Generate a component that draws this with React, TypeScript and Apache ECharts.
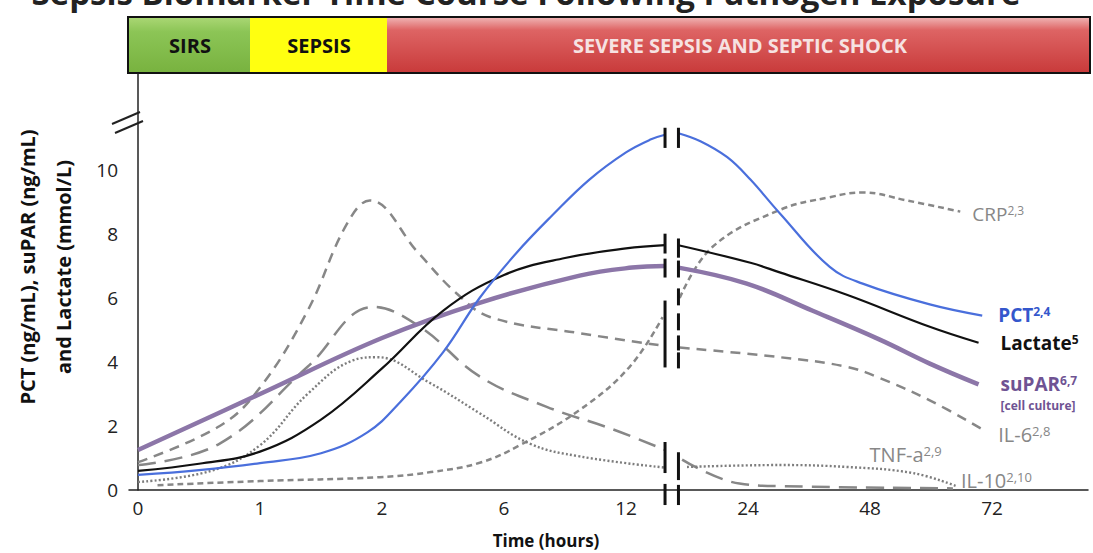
import React, { useEffect, useRef } from "react";
import * as echarts from "echarts";

// ---- data (x = position index on the broken time axis, y = concentration) ----
const xTickLabels = ["0", "1", "2", "6", "12", "24", "48", "72"];
const xTickPositions = [0, 1, 2, 3, 4, 5, 6, 7];
const yMaxLabel = 10;

const pctEarly = [[0, 0.47], [0.5, 0.62], [1, 0.84], [1.5, 1.15], [1.88, 1.8], [2.15, 2.75], [2.5, 4.3], [2.8, 6.0], [3.1, 7.4], [3.4, 8.6], [3.7, 9.7], [4.0, 10.55], [4.2, 10.95], [4.32, 11.1]];
const pctLate = [[4.43, 11.15], [4.61, 10.9], [4.83, 10.4], [5.02, 9.7], [5.26, 8.65], [5.67, 6.97], [5.94, 6.45], [6.49, 5.8], [6.92, 5.45]];

const lactateEarly = [[0, 0.6], [0.5, 0.82], [1, 1.2], [1.5, 2.2], [2, 3.8], [2.5, 5.6], [3, 6.72], [3.5, 7.25], [4, 7.55], [4.32, 7.65]];
const lactateLate = [[4.43, 7.65], [5.02, 7.1], [5.26, 6.8], [5.81, 6.1], [6.49, 5.1], [6.89, 4.6]];

const suparEarly = [[0, 1.25], [1, 3.0], [2, 4.75], [2.8, 5.85], [3.62, 6.7], [4.05, 6.95], [4.32, 7.0]];
const suparLate = [[4.43, 6.95], [4.99, 6.45], [5.53, 5.6], [6.08, 4.7], [6.49, 3.95], [6.89, 3.3]];

const crpEarly = [[0.16, 0.15], [1, 0.28], [1.98, 0.4], [2.4, 0.56], [2.8, 0.85], [3.13, 1.4], [3.62, 2.5], [4.03, 3.85], [4.3, 5.4]];
const crpLate = [[4.44, 6.0], [4.71, 7.6], [5.26, 8.75], [5.67, 9.15], [5.94, 9.3], [6.3, 9.05], [6.74, 8.7]];

const il6Early = [[0, 0.87], [0.67, 2.0], [1, 3.2], [1.39, 5.6], [1.71, 8.3], [1.9, 9.05], [2.3, 7.4], [2.61, 6.15], [2.89, 5.4], [3.62, 4.9], [4.32, 4.5]];
const il6Late = [[4.44, 4.45], [5.26, 4.15], [5.81, 3.85], [6.08, 3.5], [6.49, 2.8], [6.92, 1.9]];

const il10Early = [[0, 0.78], [0.67, 1.45], [1.39, 3.85], [1.93, 5.72], [2.31, 5.1], [2.8, 3.55], [3.35, 2.6], [3.89, 1.9], [4.32, 1.25]];
const il10Late = [[4.46, 0.95], [4.93, 0.2], [5.3, 0.12], [6.68, 0.05]];

const tnfEarly = [[0, 0.25], [0.6, 0.6], [1, 1.4], [1.39, 3.0], [1.76, 4.05], [1.96, 4.15], [2.39, 3.35], [2.8, 2.4], [3.21, 1.45], [3.62, 1.05], [4.32, 0.7]];
const tnfLate = [[4.5, 0.72], [5.26, 0.78], [5.81, 0.72], [6.35, 0.53], [6.71, 0.12]];

// axis-break marks: [x, yFrom, yTo]
const breakMarks = [
  [4.32, 11.32, 10.69], [4.32, 8.01, 7.39], [4.32, 7.23, 6.64], [4.32, 5.92, 3.83], [4.32, 1.5, 0.53], [4.32, 0.19, -0.47],
  [4.43, 11.32, 10.69], [4.43, 7.86, 7.26], [4.43, 7.17, 6.64], [4.43, 6.3, 5.77], [4.43, 5.52, 4.99], [4.43, 4.83, 4.36], [4.43, 4.3, 3.8], [4.43, 1.18, 0.31], [4.43, 0.16, -0.47],
];

const phases = ["SIRS", "SEPSIS", "SEVERE SEPSIS AND SEPTIC SHOCK"];

const FONT = "'Open Sans', 'DejaVu Sans', sans-serif";
const GRAY = "#878787";
const BLUE = "#4a6fdc";
const PURPLE = "#8c76a8";

function lineSeries(name: string, data: number[][], color: string, width: number, type: any, endLabel?: any) {
  return {
    type: "line",
    name,
    data,
    smooth: 0.4,
    showSymbol: false,
    symbol: "none",
    lineStyle: { color, width, type, cap: "butt" },
    z: 3,
    endLabel: endLabel ? { show: true, ...endLabel } : undefined,
  };
}

function sup(color: string, big: number, small: number, bold: boolean) {
  return {
    a: { fontSize: big, color, fontFamily: FONT, fontWeight: bold ? "bold" : "normal" },
    s: { fontSize: small, color, fontFamily: FONT, fontWeight: bold ? "bold" : "normal", verticalAlign: "top" },
    c: { fontSize: 12, color, fontFamily: FONT, fontWeight: "bold", lineHeight: 18, verticalAlign: "bottom" },
  };
}

export default function App() {
  const ref = useRef<HTMLDivElement>(null);
  useEffect(() => {
    if (!ref.current) return;
    const chart = echarts.init(ref.current, undefined, { renderer: "svg" });
    const redGrad = new echarts.graphic.LinearGradient(0, 0, 0, 1, [
      { offset: 0, color: "#efb0b0" },
      { offset: 0.22, color: "#de6464" },
      { offset: 1, color: "#c83a3a" },
    ]);
    const greenGrad = new echarts.graphic.LinearGradient(0, 0, 0, 1, [
      { offset: 0, color: "#a9d673" },
      { offset: 0.25, color: "#8cc556" },
      { offset: 1, color: "#78b23f" },
    ]);
    chart.setOption({
      animation: false,
      backgroundColor: "#ffffff",
      grid: { left: 129, right: 5, top: 74, bottom: 63, containLabel: false },
      xAxis: {
        type: "value",
        min: -0.0738,
        max: 7.787,
        axisLine: { show: true, lineStyle: { color: "#222", width: 1.5 } },
        axisTick: { show: false },
        splitLine: { show: false },
        axisLabel: {
          customValues: xTickPositions,
          formatter: (v: number) => xTickLabels[Math.round(v)] ?? "",
          fontSize: 19,
          color: "#222",
          fontFamily: FONT,
          margin: 8,
        },
      },
      yAxis: {
        type: "value",
        min: 0,
        max: 13,
        interval: 2,
        axisLine: { show: true, lineStyle: { color: "#222", width: 1.5 } },
        axisTick: { show: false },
        splitLine: { show: false },
        axisLabel: {
          formatter: (v: number) => (v <= yMaxLabel ? String(v) : ""),
          fontSize: 19,
          color: "#222",
          fontFamily: FONT,
          margin: 11,
        },
      },
      series: [
        lineSeries("CRP early", crpEarly, GRAY, 2.5, [6, 4]),
        lineSeries("CRP", crpLate, GRAY, 2.5, [6, 4], { formatter: "{a|CRP}{s|2,3}", rich: sup(GRAY, 19, 12, false), offset: [4, 2] }),
        lineSeries("IL-6 early", il6Early, GRAY, 2.5, [10, 7]),
        lineSeries("IL-6", il6Late, GRAY, 2.5, [10, 7], { formatter: "{a|IL-6}{s|2,8}", rich: sup(GRAY, 20, 13, false), offset: [8, 5] }),
        lineSeries("IL-10 early", il10Early, GRAY, 2.5, [18, 9]),
        lineSeries("IL-10", il10Late, GRAY, 2.5, [18, 9], { formatter: "{a|IL-10}{s|2,10}", rich: sup(GRAY, 20, 13, false), offset: [0, -8] }),
        lineSeries("TNF-a early", tnfEarly, "#7d7d7d", 2.4, [2, 2.2]),
        lineSeries("TNF-a", tnfLate, "#7d7d7d", 2.4, [2, 2.2], { formatter: "{a|TNF-a}{s|2,9}", rich: sup(GRAY, 20, 13, false), offset: [-95, -32] }),
        lineSeries("suPAR early", suparEarly, PURPLE, 4.5, "solid"),
        lineSeries("suPAR", suparLate, PURPLE, 4.5, "solid", { formatter: "{a|suPAR}{s|6,7}\n{c|[cell culture]}", rich: sup("#6f5393", 19, 12, true), offset: [14, 9] }),
        lineSeries("Lactate early", lactateEarly, "#111", 2.2, "solid"),
        lineSeries("Lactate", lactateLate, "#111", 2.2, "solid", { formatter: "{a|Lactate}{s|5}", rich: sup("#111", 19, 12, true), offset: [14, 0] }),
        lineSeries("PCT early", pctEarly, BLUE, 2.2, "solid"),
        lineSeries("PCT", pctLate, BLUE, 2.2, "solid", { formatter: "{a|PCT}{s|2,4}", rich: sup("#3457cc", 19, 12, true), offset: [8, -1] }),
        {
          type: "custom",
          name: "breaks",
          clip: false,
          z: 10,
          encode: { x: 0, y: [1, 2] },
          data: breakMarks,
          renderItem: (params: any, api: any) => {
            const p1 = api.coord([api.value(0), api.value(1)]);
            const p2 = api.coord([api.value(0), api.value(2)]);
            return {
              type: "line",
              shape: { x1: p1[0], y1: p1[1], x2: p2[0], y2: p2[1] },
              style: { stroke: "#111", lineWidth: 3 },
            };
          },
        },
      ],
      graphic: [
        {
          type: "text",
          x: 526,
          y: 9,
          style: {
            text: "Sepsis Biomarker Time Course Following Pathogen Exposure",
            font: `bold 33px ${FONT}`,
            fill: "#222",
            align: "center",
            verticalAlign: "bottom",
            textAlign: "center",
            textVerticalAlign: "bottom",
          },
        },
        { type: "rect", shape: { x: 129, y: 18, width: 121, height: 55 }, style: { fill: greenGrad } },
        { type: "rect", shape: { x: 250, y: 18, width: 137, height: 55 }, style: { fill: "#ffff10" } },
        { type: "rect", shape: { x: 387, y: 18, width: 703, height: 55 }, style: { fill: redGrad } },
        { type: "rect", shape: { x: 128, y: 17, width: 962, height: 56 }, style: { fill: "none", stroke: "#111", lineWidth: 2 } },
        {
          type: "text", x: 190, y: 45,
          style: { text: phases[0], font: `bold 20px ${FONT}`, fill: "#111", align: "center", verticalAlign: "middle", textAlign: "center", textVerticalAlign: "middle" },
        },
        {
          type: "text", x: 319, y: 45,
          style: { text: phases[1], font: `bold 20px ${FONT}`, fill: "#111", align: "center", verticalAlign: "middle", textAlign: "center", textVerticalAlign: "middle" },
        },
        {
          type: "text", x: 740, y: 45,
          style: { text: phases[2], font: `bold 20px ${FONT}`, fill: "#f6e2e2", align: "center", verticalAlign: "middle", textAlign: "center", textVerticalAlign: "middle" },
        },
        { type: "line", shape: { x1: 112, y1: 124, x2: 140, y2: 112 }, style: { stroke: "#222", lineWidth: 2 } },
        { type: "line", shape: { x1: 115, y1: 133, x2: 143, y2: 121 }, style: { stroke: "#222", lineWidth: 2 } },
        {
          type: "text", x: 27, y: 267, rotation: Math.PI / 2,
          style: { text: "PCT (ng/mL), suPAR (ng/mL)", font: `bold 20px ${FONT}`, fill: "#111", align: "center", verticalAlign: "middle", textAlign: "center", textVerticalAlign: "middle" },
        },
        {
          type: "text", x: 63, y: 267, rotation: Math.PI / 2,
          style: { text: "and Lactate (mmol/L)", font: `bold 20px ${FONT}`, fill: "#111", align: "center", verticalAlign: "middle", textAlign: "center", textVerticalAlign: "middle" },
        },
        {
          type: "text", x: 546, y: 540,
          style: { text: "Time (hours)", font: `bold 17px ${FONT}`, fill: "#111", align: "center", verticalAlign: "middle", textAlign: "center", textVerticalAlign: "middle" },
        },
      ],
    });
    return () => chart.dispose();
  }, []);
  return <div ref={ref} style={{ position: "absolute", left: 0, top: 0, width: 1093, height: 553, overflow: "hidden" }} />;
}
